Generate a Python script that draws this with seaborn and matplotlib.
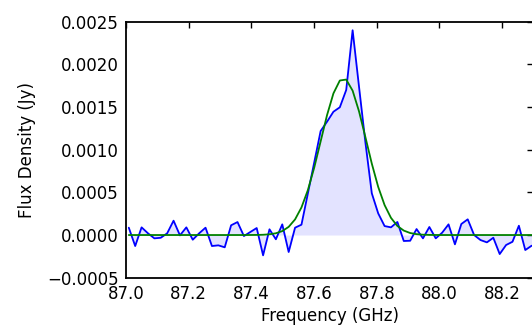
import matplotlib
matplotlib.use("Agg")
import matplotlib.pyplot as plt
import numpy as np
import pandas as pd
import seaborn as sns
from matplotlib.ticker import FuncFormatter, MultipleLocator

# Channel frequencies of the spectrum (GHz)
freq_ghz = [
    87.0090, 87.0294, 87.0498, 87.0702, 87.0906, 87.1110, 87.1314, 87.1518,
    87.1722, 87.1926, 87.2130, 87.2334, 87.2538, 87.2742, 87.2946, 87.3150,
    87.3354, 87.3558, 87.3762, 87.3966, 87.4170, 87.4374, 87.4578, 87.4782,
    87.4986, 87.5190, 87.5394, 87.5598, 87.5802, 87.6006, 87.6210, 87.6414,
    87.6618, 87.6822, 87.7026, 87.7230, 87.7434, 87.7638, 87.7842, 87.8046,
    87.8250, 87.8454, 87.8658, 87.8862, 87.9066, 87.9270, 87.9474, 87.9678,
    87.9882, 88.0086, 88.0290, 88.0494, 88.0698, 88.0902, 88.1106, 88.1310,
    88.1514, 88.1718, 88.1922, 88.2126, 88.2330, 88.2534, 88.2738, 88.2942,
]

# Measured flux density per channel (Jy)
flux_jy = [
    0.000086, -0.000129, 0.000090, 0.000020, -0.000039, -0.000032, 0.000020, 0.000168,
    -0.000004, 0.000090, -0.000055, 0.000020, 0.000086, -0.000129, -0.000121, -0.000144,
    0.000114, 0.000152, -0.000012, 0.000035, 0.000082, -0.000238, 0.000067, -0.000050,
    0.000125, -0.000199, 0.000086, 0.000121, 0.000486, 0.000852, 0.001219, 0.001328,
    0.001445, 0.001497, 0.001700, 0.002400, 0.001739, 0.001085, 0.000489, 0.000254,
    0.000105, 0.000090, 0.000153, -0.000070, -0.000067, 0.000070, -0.000039, 0.000094,
    -0.000039, 0.000027, 0.000125, -0.000109, 0.000129, 0.000184, 0.000000, -0.000059,
    -0.000086, -0.000032, -0.000223, -0.000117, -0.000079, 0.000109, -0.000176, -0.000125,
]

# Gaussian line fit evaluated per channel (Jy)
fit_jy = [
    0.0, 0.0, 0.0, 0.0, 0.0, 0.0, 0.0, 0.0,
    0.0, 0.0, 0.0, 0.0, 0.0, 0.0, 0.0, 0.0,
    0.0, 0.0, 0.0, 0.0000004, 0.0000011, 0.0000032, 0.0000084, 0.0000205,
    0.0000462, 0.0000957, 0.000183, 0.000323, 0.000526, 0.000791, 0.001098, 0.001405,
    0.001660, 0.001811, 0.001822, 0.001692, 0.001450, 0.001147, 0.000837, 0.000564,
    0.000351, 0.000201, 0.000106, 0.0000520, 0.0000235, 0.0000098, 0.0000037, 0.0000013,
    0.0000004, 0.0, 0.0, 0.0, 0.0, 0.0, 0.0, 0.0,
    0.0, 0.0, 0.0, 0.0, 0.0, 0.0, 0.0, 0.0,
]

spec = pd.DataFrame({"freq": freq_ghz, "flux": flux_jy, "fit": fit_jy})

sns.set_style("white")
plt.rcParams.update({
    "font.family": ["DejaVu Sans"],
    "font.size": 12,
    "text.color": "black",
    "axes.labelcolor": "black",
    "axes.linewidth": 1.3,
    "axes.edgecolor": "black",
    "xtick.direction": "in",
    "ytick.direction": "in",
    "xtick.top": True,
    "ytick.right": True,
    "xtick.major.size": 4.5,
    "ytick.major.size": 4.5,
    "xtick.major.width": 1.0,
    "ytick.major.width": 1.0,
    "xtick.major.pad": 5,
    "ytick.major.pad": 5,
    "xtick.color": "black",
    "ytick.color": "black",
})

fig = plt.figure(figsize=(5.32, 3.26), dpi=100)
ax = fig.add_axes([0.2368, 0.1482, 0.766, 0.7852])

ax.fill_between(spec["freq"], spec["flux"], 0, color="#0000ff", alpha=0.11, linewidth=0)
sns.lineplot(data=spec, x="freq", y="flux", color="#0000ff", linewidth=1.3,
             estimator=None, ax=ax)
sns.lineplot(data=spec, x="freq", y="fit", color="#008000", linewidth=1.3,
             estimator=None, ax=ax)

ax.set_xlim(87.0, 88.3)
ax.set_ylim(-0.0005, 0.0025)
ax.xaxis.set_major_locator(MultipleLocator(0.2))
ax.yaxis.set_major_locator(MultipleLocator(0.0005))
ax.xaxis.set_major_formatter(FuncFormatter(lambda v, p: f"{v:.1f}"))
ax.yaxis.set_major_formatter(
    FuncFormatter(lambda v, p: f"{v:.4f}".replace("-", "\u2212") if abs(v) > 1e-12 else "0.0000"))
ax.tick_params(axis="both", labelsize=12, colors="black")
ax.set_xlabel("Frequency (GHz)", fontsize=12, labelpad=3, color="black")
ax.set_ylabel("Flux Density (Jy)", fontsize=12, labelpad=8, color="black")

fig.savefig("out.png", dpi=100)
